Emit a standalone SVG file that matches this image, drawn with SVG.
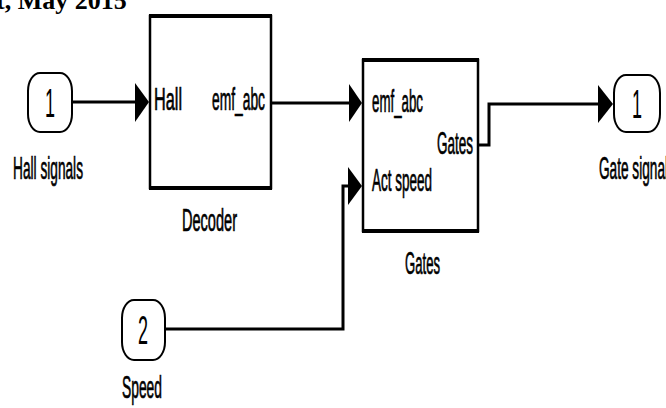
<svg xmlns="http://www.w3.org/2000/svg" width="666" height="408" viewBox="0 0 666 408">
<style>
.t{font-family:"Liberation Sans",Arial,sans-serif;font-size:31px;fill:#000;stroke:#000;stroke-width:0.7}
.d{font-size:40px;stroke-width:0}
.port{fill:#fff;stroke:#000;stroke-width:2}
.blk{fill:#fff;stroke:#000;stroke-width:2.5}
.edge{fill:#000;stroke:#000;stroke-width:4}
.wire{fill:none;stroke:#000;stroke-width:3}
.head{fill:#000;stroke:none}
</style>
<rect width="666" height="408" fill="#fff"/>
<text x="-4" y="9" font-family="Liberation Serif,serif" font-weight="bold" font-size="26">t, May 2015</text>

<g id="connectors">
  <line class="wire" x1="72" y1="102" x2="137" y2="102"/>
  <polygon class="head" points="135,83 149,102 135,122"/>
  <line class="wire" x1="271" y1="103" x2="351" y2="103"/>
  <polygon class="head" points="349,84 362,103 349,122"/>
  <polyline class="wire" points="165,329 343,329 343,186 350,186"/>
  <polygon class="head" points="348,167 362,186 348,205"/>
  <polyline class="wire" points="478,145 489,145 489,104 600,104"/>
  <polygon class="head" points="598,85 613,104 598,123"/>
</g>

<g id="in1">
  <rect class="port" x="28" y="73" width="44" height="59" rx="12" ry="18"/>
  <text class="t d" transform="translate(50,117) scale(0.45,1)" text-anchor="middle">1</text>
  <text class="t" x="13" y="179" textLength="70" lengthAdjust="spacingAndGlyphs">Hall signals</text>
</g>

<g id="decoder">
  <rect class="blk" x="150" y="16" width="121" height="172"/>
  <line class="edge" x1="149" y1="16" x2="272" y2="16"/>
  <line class="edge" x1="149" y1="188" x2="272" y2="188"/>
  <text class="t" x="154" y="110" textLength="28" lengthAdjust="spacingAndGlyphs">Hall</text>
  <text class="t" x="212" y="110" textLength="53" lengthAdjust="spacingAndGlyphs">emf_abc</text>
  <text class="t" x="182" y="231" textLength="55" lengthAdjust="spacingAndGlyphs">Decoder</text>
</g>

<g id="gates">
  <rect class="blk" x="363" y="60" width="115" height="171"/>
  <line class="edge" x1="362" y1="60" x2="479" y2="60"/>
  <line class="edge" x1="362" y1="231" x2="479" y2="231"/>
  <text class="t" x="372" y="112" textLength="51" lengthAdjust="spacingAndGlyphs">emf_abc</text>
  <text class="t" x="437" y="154" textLength="36" lengthAdjust="spacingAndGlyphs">Gates</text>
  <text class="t" x="372" y="191" textLength="60" lengthAdjust="spacingAndGlyphs">Act speed</text>
  <text class="t" x="405" y="274" textLength="35" lengthAdjust="spacingAndGlyphs">Gates</text>
</g>

<g id="in2">
  <rect class="port" x="122" y="300" width="43" height="60" rx="12" ry="18"/>
  <text class="t d" transform="translate(143,344) scale(0.45,1)" text-anchor="middle">2</text>
  <text class="t" x="122" y="398" textLength="40" lengthAdjust="spacingAndGlyphs">Speed</text>
</g>

<g id="out1">
  <rect class="port" x="614" y="75" width="46" height="57" rx="12" ry="18"/>
  <text class="t d" transform="translate(637,118) scale(0.45,1)" text-anchor="middle">1</text>
  <text class="t" x="599" y="179" textLength="69" lengthAdjust="spacingAndGlyphs">Gate signal</text>
</g>
</svg>
